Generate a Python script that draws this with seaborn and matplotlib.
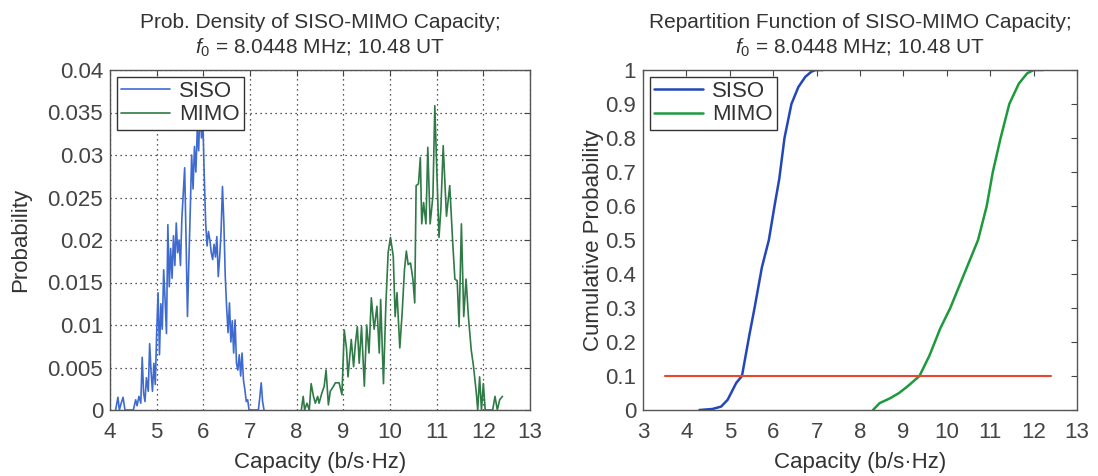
import pandas as pd
import seaborn as sns
import matplotlib.pyplot as plt

# values
# probability density, (capacity, density * 1e3)
siso_pdf = [
    (4.12, 0), (4.17, 1.5), (4.20, 0), (4.24, 0.8), (4.28, 1.5), (4.32, 0),
    (4.50, 0), (4.55, 1.2), (4.58, 0.5), (4.62, 1.6), (4.66, 0.8), (4.69, 6.2),
    (4.72, 2.0), (4.75, 1.0), (4.78, 3.8), (4.82, 2.2), (4.85, 7.8), (4.88, 4.5),
    (4.91, 2.2), (4.94, 5.5), (4.97, 3.0), (5.00, 9.0), (5.03, 13.8), (5.06, 6.5),
    (5.09, 12.5), (5.12, 9.5), (5.15, 16.5), (5.18, 13.0), (5.21, 9.0), (5.24, 21.8),
    (5.27, 14.5), (5.30, 19.0), (5.33, 15.5), (5.36, 20.5), (5.39, 17.0), (5.42, 22.0),
    (5.45, 18.5), (5.48, 20.0), (5.51, 17.0), (5.54, 22.5), (5.57, 25.5), (5.60, 28.5),
    (5.63, 20.0), (5.66, 11.0), (5.69, 17.5), (5.72, 23.5), (5.75, 30.0), (5.78, 26.0),
    (5.81, 31.0), (5.84, 28.0), (5.87, 33.0), (5.90, 30.5), (5.93, 36.0), (5.96, 32.0),
    (5.99, 34.0), (6.02, 27.5), (6.05, 22.0), (6.08, 19.3), (6.11, 21.0), (6.14, 20.0),
    (6.17, 18.5), (6.20, 17.7), (6.23, 19.5), (6.26, 18.0), (6.29, 20.4), (6.32, 15.7),
    (6.35, 18.0), (6.38, 21.0), (6.41, 26.3), (6.44, 22.0), (6.47, 15.7), (6.50, 12.0),
    (6.53, 9.1), (6.56, 12.6), (6.59, 8.0), (6.62, 10.5), (6.65, 6.7), (6.68, 10.6),
    (6.71, 5.5), (6.74, 4.7), (6.77, 6.5), (6.80, 4.0), (6.83, 6.7), (6.86, 3.5),
    (6.89, 2.4), (6.92, 1.0), (6.95, 1.2), (6.98, 0), (7.18, 0), (7.21, 1.5),
    (7.24, 3.2), (7.27, 1.0), (7.30, 0),
]
mimo_pdf = [
    (8.10, 0), (8.14, 1.6), (8.17, 0), (8.22, 0.8), (8.27, 0), (8.31, 3.1),
    (8.36, 1.6), (8.40, 0.8), (8.45, 1.6), (8.48, 0.8), (8.54, 2.0), (8.59, 2.8),
    (8.63, 4.7), (8.68, 0.6), (8.72, 2.2), (8.79, 2.8), (8.83, 3.2), (8.91, 3.2),
    (8.97, 1.8), (9.02, 9.4), (9.07, 7.1), (9.10, 3.9), (9.17, 8.3), (9.22, 5.1),
    (9.26, 7.9), (9.30, 9.8), (9.34, 5.5), (9.39, 9.8), (9.45, 2.8), (9.50, 10.0),
    (9.55, 6.7), (9.60, 13.2), (9.66, 9.5), (9.72, 12.2), (9.77, 6.7), (9.80, 13.0),
    (9.86, 3.1), (9.91, 12.2), (9.96, 18.5), (10.01, 20.3), (10.07, 18.1), (10.11, 11.0),
    (10.15, 13.8), (10.21, 7.3), (10.26, 11.4), (10.31, 16.5), (10.35, 18.7), (10.39, 17.1),
    (10.44, 17.3), (10.49, 15.4), (10.53, 12.6), (10.56, 26.4), (10.61, 26.6), (10.65, 29.7),
    (10.68, 21.9), (10.72, 24.4), (10.77, 21.9), (10.81, 30.9), (10.86, 21.9), (10.92, 25.2),
    (10.96, 35.8), (11.00, 28.7), (11.05, 20.3), (11.09, 23.6), (11.14, 31.1), (11.21, 22.8),
    (11.28, 26.4), (11.34, 20.1), (11.39, 15.4), (11.44, 15.2), (11.48, 9.8), (11.53, 21.9),
    (11.58, 11.0), (11.63, 15.4), (11.68, 11.0), (11.74, 7.1), (11.79, 5.1), (11.85, 2.0),
    (11.88, 0), (11.92, 3.9), (11.96, 0), (12.00, 3.1), (12.04, 0), (12.20, 0),
    (12.25, 1.6), (12.30, 0), (12.35, 1.2), (12.41, 1.6),
]
# cumulative distribution, (capacity, probability)
siso_cdf = [
    (4.30, 0.0), (4.60, 0.003), (4.80, 0.01), (4.95, 0.03), (5.05, 0.055), (5.15, 0.08),
    (5.28, 0.10), (5.45, 0.22), (5.57, 0.30), (5.74, 0.42), (5.90, 0.50), (6.03, 0.60),
    (6.14, 0.68), (6.26, 0.80), (6.42, 0.90), (6.58, 0.95), (6.74, 0.98), (6.88, 0.995),
    (6.98, 1.0), (7.15, 1.0),
]
mimo_cdf = [
    (8.30, 0.0), (8.45, 0.02), (8.70, 0.035), (8.90, 0.05), (9.10, 0.07), (9.37, 0.10),
    (9.60, 0.16), (9.85, 0.24), (10.08, 0.30), (10.40, 0.40), (10.72, 0.50), (10.92, 0.60),
    (11.06, 0.70), (11.24, 0.80), (11.44, 0.90), (11.66, 0.96), (11.85, 0.99), (12.00, 1.0),
    (12.22, 1.0),
]
threshold = 0.1
threshold_span = (3.5, 12.4)

pdf_ticks = [0, 0.005, 0.01, 0.015, 0.02, 0.025, 0.03, 0.035, 0.04]
pdf_ticklabels = ["0", "0.005", "0.01", "0.015", "0.02", "0.025", "0.03", "0.035", "0.04"]
cdf_ticks = [0, 0.1, 0.2, 0.3, 0.4, 0.5, 0.6, 0.7, 0.8, 0.9, 1]
cdf_ticklabels = ["0", "0.1", "0.2", "0.3", "0.4", "0.5", "0.6", "0.7", "0.8", "0.9", "1"]

sns.set_style("white")
plt.rcParams['font.family'] = ['Liberation Sans', 'DejaVu Sans']
plt.rcParams['mathtext.fontset'] = 'custom'
plt.rcParams['mathtext.rm'] = 'Liberation Sans'
plt.rcParams['mathtext.it'] = 'Liberation Sans:italic'
plt.rcParams['text.color'] = '#333333'
plt.rcParams['axes.labelcolor'] = '#333333'
plt.rcParams['xtick.color'] = '#444444'
plt.rcParams['ytick.color'] = '#444444'

df_siso = pd.DataFrame(siso_pdf, columns=["cap", "p"])
df_siso["p"] = df_siso["p"] / 1000
df_mimo = pd.DataFrame(mimo_pdf, columns=["cap", "p"])
df_mimo["p"] = df_mimo["p"] / 1000
cdf_s = pd.DataFrame(siso_cdf, columns=["cap", "F"])
cdf_m = pd.DataFrame(mimo_cdf, columns=["cap", "F"])

fig = plt.figure(figsize=(10.98, 4.76), dpi=100)
ax1 = fig.add_axes([110 / 1098, 1 - 410 / 476, 420 / 1098, 340 / 476])
ax2 = fig.add_axes([643 / 1098, 1 - 410 / 476, 434 / 1098, 340 / 476])

# left: probability density
sns.lineplot(x="cap", y="p", data=df_siso, ax=ax1, color="#3f6bd0", lw=1.2,
             estimator=None, label="SISO")
sns.lineplot(x="cap", y="p", data=df_mimo, ax=ax1, color="#2f7a46", lw=1.2,
             estimator=None, label="MIMO")
ax1.set_xlim(4, 13)
ax1.set_ylim(0, 0.04)
ax1.set_xticks(range(4, 14))
ax1.set_yticks(pdf_ticks)
ax1.set_yticklabels(pdf_ticklabels)
ax1.grid(True, linestyle=(0, (1, 3)), color="#222222", linewidth=0.9)
ax1.set_xlabel("Capacity (b/s·Hz)", fontsize=16, labelpad=6)
ax1.set_ylabel("Probability", fontsize=16, labelpad=12)
ax1.set_title("Prob. Density of SISO-MIMO Capacity;\n$f_0$ = 8.0448 MHz; 10.48 UT",
              fontsize=15, linespacing=1.25, pad=12)

# right: repartition function
sns.lineplot(x="cap", y="F", data=cdf_s, ax=ax2, color="#2347b8", lw=1.8,
             estimator=None, label="SISO")
sns.lineplot(x="cap", y="F", data=cdf_m, ax=ax2, color="#1c9a3c", lw=1.8,
             estimator=None, label="MIMO")
ax2.plot(threshold_span, [threshold, threshold], color="#e8462e", lw=1.5)
ax2.set_xlim(3, 13)
ax2.set_ylim(0, 1)
ax2.set_xticks(range(3, 14))
ax2.set_yticks(cdf_ticks)
ax2.set_yticklabels(cdf_ticklabels)
ax2.set_xlabel("Capacity (b/s·Hz)", fontsize=16, labelpad=6)
ax2.set_ylabel("Cumulative Probability", fontsize=16, labelpad=1)
ax2.set_title("Repartition Function of SISO-MIMO Capacity;\n$f_0$ = 8.0448 MHz; 10.48 UT",
              fontsize=15, linespacing=1.25, pad=12)

for ax in (ax1, ax2):
    ax.tick_params(direction="in", top=True, right=True, labelsize=16, length=4, pad=5)
    ax.tick_params(axis="x", pad=9)
    for s in ax.spines.values():
        s.set_color("#555555")
        s.set_linewidth(1.0)
    leg = ax.legend(loc="upper left", fontsize=16, frameon=True, fancybox=False,
                    handlelength=2.2, borderpad=0.2, labelspacing=0.1,
                    handletextpad=0.4, borderaxespad=0.3)
    leg.get_frame().set_edgecolor("#333333")
    leg.get_frame().set_linewidth(1.0)
    leg.get_frame().set_alpha(1)

fig.savefig("out.png", dpi=100)
